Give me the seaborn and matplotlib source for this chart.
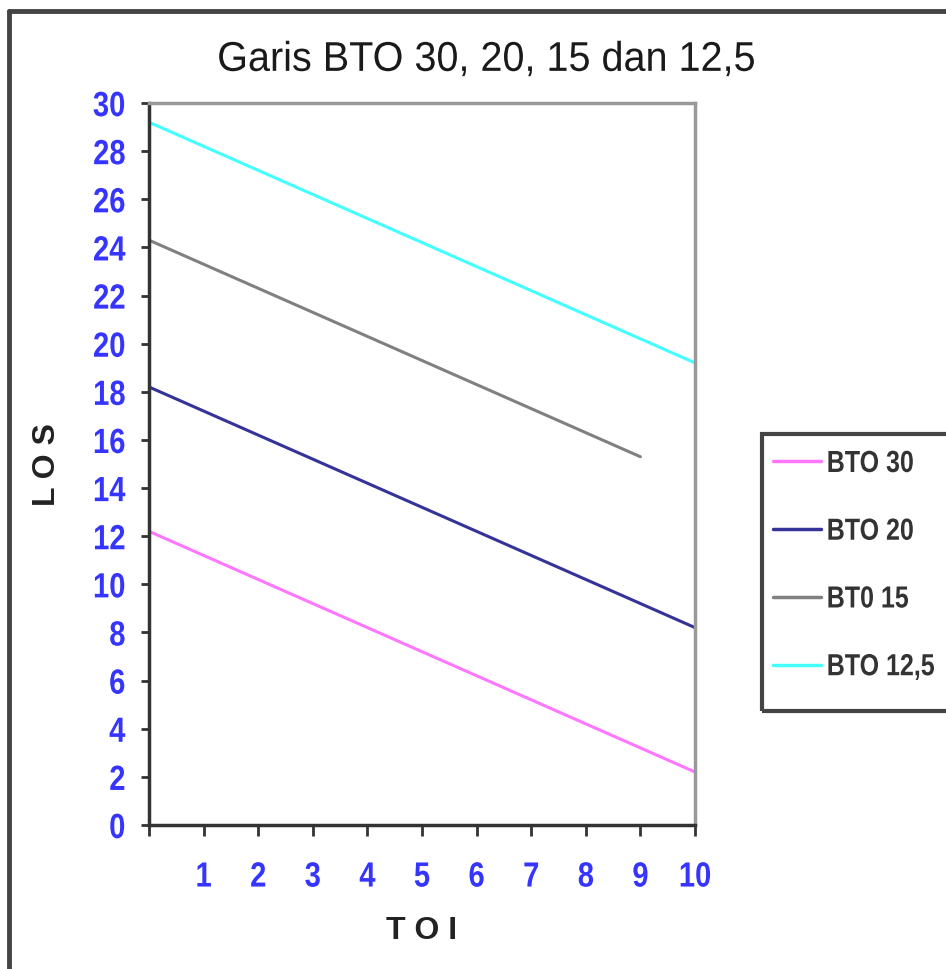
import matplotlib
matplotlib.use("Agg")
import matplotlib.pyplot as plt
import seaborn as sns
import pandas as pd
from matplotlib.lines import Line2D
from matplotlib.patches import Rectangle
from matplotlib.patheffects import AbstractPathEffect
from matplotlib.transforms import Affine2D

toi = [0, 1, 2, 3, 4, 5, 6, 7, 8, 9, 10]
bto30 = [12.2, 11.2, 10.2, 9.2, 8.2, 7.2, 6.2, 5.2, 4.2, 3.2, 2.2]
bto20 = [18.2, 17.2, 16.2, 15.2, 14.2, 13.2, 12.2, 11.2, 10.2, 9.2, 8.2]
bto15 = [24.3, 23.3, 22.3, 21.3, 20.3, 19.3, 18.3, 17.3, 16.3, 15.3]
bto125 = [29.2, 28.2, 27.2, 26.2, 25.2, 24.2, 23.2, 22.2, 21.2, 20.2, 19.2]
series_names = ["BTO 30", "BTO 20", "BT0 15", "BTO 12,5"]
series_vals = [bto30, bto20, bto15, bto125]
colors = ["#FF77FF", "#333399", "#808080", "#44FFFF"]
xtick_labels = ["", "1", "2", "3", "4", "5", "6", "7", "8", "9", "10"]
ytick_vals = list(range(0, 31, 2))

rows = []
for name, vals in zip(series_names, series_vals):
    for x, y in zip(toi, vals):
        rows.append({"TOI": x, "LOS": y, "series": name})
df = pd.DataFrame(rows)


class Stretch(AbstractPathEffect):
    """Stretch glyphs vertically about the middle of the cap height."""
    def __init__(self, sy, c=36.0):
        super().__init__()
        self.sy = sy
        self.c = c

    def draw_path(self, renderer, gc, tpath, affine, rgbFace=None):
        t = Affine2D().translate(0, -self.c).scale(1, self.sy).translate(0, self.c) + affine
        renderer.draw_path(gc, tpath, t, rgbFace)


sns.set_style("white")
plt.rcParams["font.family"] = ["Liberation Sans", "DejaVu Sans"]

fig = plt.figure(figsize=(9.46, 9.70), dpi=100)
ax = fig.add_axes([0.1575, 0.1485, 0.5772, 0.7443])
sns.lineplot(data=df, x="TOI", y="LOS", hue="series", hue_order=series_names,
             palette=colors, linewidth=2.2, ax=ax, legend=False)

ax.set_xlim(0, 10)
ax.set_ylim(0, 30)
ax.set_xticks(toi)
ax.set_xticklabels(xtick_labels)
ax.set_yticks(ytick_vals)
ax.set_yticklabels([str(v) for v in ytick_vals])
for s in ["left", "bottom"]:
    ax.spines[s].set_color("#333333")
    ax.spines[s].set_linewidth(2.5)
for s in ["top", "right"]:
    ax.spines[s].set_color("#999999")
    ax.spines[s].set_linewidth(2.5)
ax.tick_params(axis="x", direction="out", length=8, width=2, color="#333333",
               pad=19, labelsize=21, labelcolor="#3535FF", bottom=True)
ax.tick_params(axis="y", direction="out", length=6, width=2, color="#333333",
               pad=11, labelsize=21, labelcolor="#3535FF", left=True)
for lab in ax.get_xticklabels() + ax.get_yticklabels():
    lab.set_fontweight("bold")
    lab.set_path_effects([Stretch(1.2)])

ax.set_xlabel("T O I", fontsize=23, fontweight="bold", color="#222222", labelpad=18)
ax.set_ylabel("L O S", fontsize=23, fontweight="bold", color="#222222", labelpad=22)
title = fig.text(0.514, 0.938, "Garis BTO 30, 20, 15 dan 12,5", ha="center", va="center",
                 fontsize=28.5, color="#1a1a1a")
title.set_path_effects([Stretch(1.05)])

handles = [Line2D([0], [0], color=c, lw=2.5) for c in colors]
leg = fig.legend(handles, series_names, loc="upper left",
                 bbox_to_anchor=(773 / 946, 1 - 452 / 970),
                 borderaxespad=0, borderpad=0, frameon=False,
                 handlelength=1.9, handletextpad=0.25, labelspacing=1.75,
                 prop={"weight": "bold", "size": 18})
for t in leg.get_texts():
    t.set_color("#333333")
    t.set_path_effects([Stretch(1.22)])

fig.add_artist(Rectangle((762 / 946, 1 - 712 / 970), 190 / 946, 277 / 970,
                         transform=fig.transFigure, fill=False,
                         edgecolor="#444444", lw=3))

fig.add_artist(Line2D([9 / 946, 9 / 946], [0, 1 - 12 / 970], transform=fig.transFigure,
                      color="#444444", lw=3.5))
fig.add_artist(Line2D([9 / 946, 1], [1 - 12 / 970, 1 - 12 / 970], transform=fig.transFigure,
                      color="#444444", lw=3.5))

fig.savefig("out.png", dpi=100)
